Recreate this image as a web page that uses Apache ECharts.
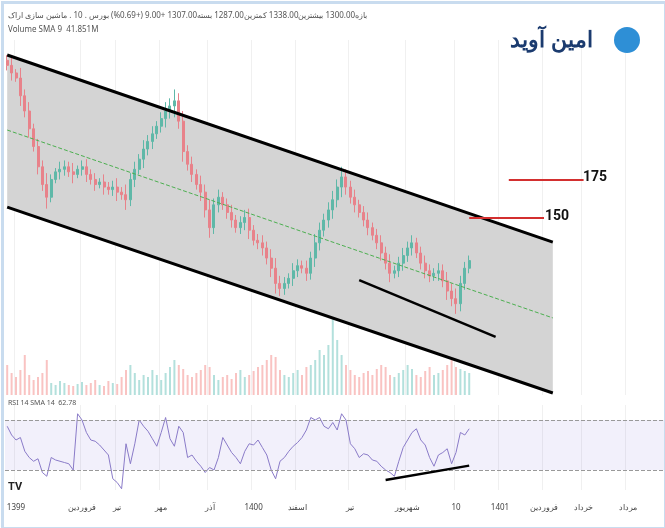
<!DOCTYPE html>
<html><head><meta charset="utf-8">
<script src="https://cdn.jsdelivr.net/npm/echarts@6/dist/echarts.min.js"></script>
<style>html,body{margin:0;padding:0;background:#fff}#c{width:665px;height:528px}</style>
</head><body><div id="c"></div>
<script>
const closes=[1900,1870,1850,1780,1720,1650,1580,1500,1430,1380,1450,1480,1490,1500,1480,1470,1490,1500,1470,1450,1430,1440,1420,1410,1420,1400,1390,1370,1450,1490,1530,1570,1600,1630,1660,1690,1720,1740,1760,1680,1560,1510,1470,1430,1400,1330,1260,1350,1380,1350,1320,1290,1260,1280,1300,1250,1210,1200,1180,1140,1100,1040,1020,1040,1060,1090,1110,1100,1080,1140,1200,1250,1290,1330,1370,1420,1460,1420,1380,1350,1320,1290,1260,1230,1200,1160,1120,1080,1090,1120,1150,1180,1200,1160,1120,1090,1070,1080,1090,1050,1010,980,960,1040,1100,1130];
const firstOpen=1920;
const wicks=[20,30,15,40,25,35,20,30,25,45,20,15,30,25,20,35,15,25,30,20,25,15,30,20,25,35,20,40,25,30,20,35,25,30,20,25,35,30,45,30,40,25,30,20,35,30,40,25,30,20,25,30,20,25,30,35,20,25,30,25,35,40,30,25,20,30,25,20,30,25,35,30,25,30,35,30,40,30,25,30,20,25,30,20,25,30,25,35,20,25,30,25,30,20,25,30,25,20,30,25,35,30,40,30,25,20];
const volumes=[30,22,18,25,40,20,15,18,22,35,12,10,14,12,10,9,11,13,10,12,15,10,9,14,12,11,18,25,30,22,15,20,18,25,20,15,22,28,35,30,26,20,18,22,25,30,28,20,15,18,20,16,22,25,18,20,24,28,30,35,40,38,25,20,18,22,25,20,28,30,35,45,40,50,78,55,40,30,25,20,18,22,24,20,26,30,28,20,18,22,25,30,26,20,18,24,28,20,22,25,30,35,28,26,24,22];
const rsi=[65,58,54,56,45,40,37,39,28,25,40,38,37,36,35,30,75,70,60,54,53,50,46,42,23,20,15,51,35,51,70,65,61,55,49,60,72,55,49,65,60,40,42,37,33,28,32,30,40,56,50,44,40,35,45,51,50,54,48,42,30,23,37,40,45,49,52,56,62,72,70,72,65,63,68,62,75,70,51,47,40,43,42,38,37,33,30,28,25,37,48,54,60,63,54,50,40,33,42,44,47,35,44,60,58,63];
const dateLabels={2:'1399',17:'فروردین',25:'تیر',35:'مهر',46:'آذر',56:'1400',66:'اسفند',78:'تیر',91:'شهریور',102:'10',112:'1401',122:'فروردین',131:'خرداد',141:'مرداد'};
const channelUpper=[[0,1941],[124,1203]];
const channelLower=[[0,1341],[124,608]];
const channelMid=[[0,1645],[124,904]];
const supportPrice=[[80,1053],[111,829]];
const supportRsi=[[86,22],[105,33.5]];
const target175=[[114,1448],[131,1448]];
const target150=[[105,1298],[122,1298]];
const N=150;
const cats=Array.from({length:N},(_,i)=>i);
const ohlc=closes.map((c,i)=>{const o=i?closes[i-1]:firstOpen;return [o,c,Math.min(o,c)-wicks[i],Math.max(o,c)+wicks[i]];});
const volData=volumes.map((v,i)=>({value:v,itemStyle:{color:ohlc[i][1]>=ohlc[i][0]?'rgba(38,166,154,0.35)':'rgba(239,83,80,0.35)'}}));
const chart=echarts.init(document.getElementById('c'));
const lineS=(data,color,w,xi,yi,type,z)=>({type:'line',data,xAxisIndex:xi,yAxisIndex:yi,symbol:'none',lineStyle:{color,width:w,type:type||'solid'},z:z||5,silent:true});
const vlines=Object.keys(dateLabels).map(Number);
chart.setOption({
 animation:false,
 graphic:[
  {type:'rect',left:0,top:0,shape:{width:663,height:526},style:{fill:'none',stroke:'#c9dcef',lineWidth:3},z:100},
  {type:'text',left:8,top:12,style:{text:'بازه1300.00 بیشترین1338.00 کمترین1287.00 بسته1307.00 +9.00 (+0.69%) بورس . 10 . ماشین سازی اراک',fontSize:8,fill:'#555',fontFamily:'Noto Sans'},z:50},
  {type:'text',left:8,top:26,style:{text:'Volume SMA 9  41.851M',fontSize:8,fill:'#555',fontFamily:'Noto Sans'},z:50},
  {type:'text',left:8,top:399,style:{text:'RSI 14 SMA 14  62.78',fontSize:7,fill:'#555',fontFamily:'Noto Sans'},z:50},
  {type:'text',left:8,top:482,style:{text:'TV',fontSize:11,fontWeight:'bold',fill:'#222',fontFamily:'Roboto'},z:50},
  {type:'text',left:510,top:30,style:{text:'امین آوید',fontSize:22,fontWeight:'bold',fill:'#1b3b6f',fontFamily:'Noto Sans'},z:50},
  {type:'circle',left:614,top:27,shape:{r:13},style:{fill:'#2e8fd6'},z:50},
  {type:'text',left:583,top:170,style:{text:'175',fontSize:14,fontWeight:'bold',fill:'#111',fontFamily:'Roboto'},z:50},
  {type:'text',left:545,top:209,style:{text:'150',fontSize:14,fontWeight:'bold',fill:'#111',fontFamily:'Roboto'},z:50}
 ],
 grid:[
  {left:5,right:0,top:40,bottom:133},
  {left:5,right:0,top:300,bottom:133},
  {left:5,right:0,top:405,bottom:38}
 ],
 xAxis:[0,1,2].map(g=>({type:'category',data:cats,gridIndex:g,boundaryGap:true,axisLine:{show:false},axisTick:{show:false},
   axisLabel:{show:g===2,interval:(i)=>dateLabels[i]!==undefined,formatter:(v)=>dateLabels[v]||'',fontSize:8,color:'#444',margin:14,fontFamily:'Noto Sans'},
   splitLine:{show:g!==1,interval:(i)=>dateLabels[i]!==undefined,lineStyle:{color:'#f0f0f0'}}})),
 yAxis:[
  {gridIndex:0,min:600,max:2000,show:false},
  {gridIndex:1,min:0,max:95,show:false},
  {gridIndex:2,min:14,max:82,show:false}
 ],
 series:[
  {type:'custom',xAxisIndex:0,yAxisIndex:0,z:1,silent:true,data:[0],renderItem:(p,api)=>{
    const pts=[channelUpper[0],channelUpper[1],channelLower[1],channelLower[0]].map(d=>api.coord(d));
    return {type:'polygon',shape:{points:pts},style:{fill:'#d4d4d4'}};}},
  {type:'bar',xAxisIndex:1,yAxisIndex:1,data:volData,barWidth:2,z:2},
  {type:'candlestick',xAxisIndex:0,yAxisIndex:0,data:ohlc,barWidth:2.5,z:3,
   itemStyle:{color:'#5fb8a8',color0:'#e8828a',borderColor:'#5fb8a8',borderColor0:'#e8828a',borderWidth:1}},
  lineS(channelUpper,'#000',3,0,0),
  lineS(channelLower,'#000',3,0,0),
  lineS(channelMid,'#4caf50',1,0,0,'dashed'),
  lineS(supportPrice,'#000',2.5,0,0),
  lineS(target175,'#d32f2f',2,0,0),
  lineS(target150,'#d32f2f',2,0,0),
  {type:'line',xAxisIndex:2,yAxisIndex:2,data:rsi,symbol:'none',lineStyle:{color:'#8a7bc8',width:1},z:4,
   markArea:{silent:true,itemStyle:{color:'rgba(150,130,220,0.12)'},data:[[{yAxis:30},{yAxis:70}]]},
   markLine:{silent:true,symbol:'none',label:{show:false},lineStyle:{color:'#999',type:'dashed',width:1},data:[{yAxis:30},{yAxis:70}]}},
  lineS(supportRsi,'#000',2.5,2,2)
 ]
});
</script></body></html>
